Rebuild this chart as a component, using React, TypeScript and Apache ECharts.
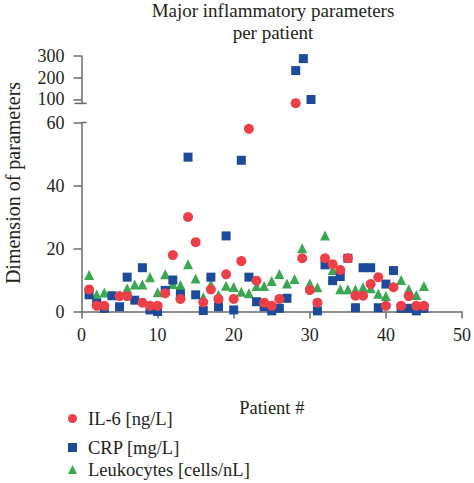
import React, { useEffect, useRef } from "react";
import * as echarts from "echarts";

const patients = [1, 2, 3, 4, 5, 6, 7, 8, 9, 10, 11, 12, 13, 14, 15, 16, 17, 18, 19, 20, 21, 22, 23, 24, 25, 26, 27, 28, 29, 30, 31, 32, 33, 34, 35, 36, 37, 38, 39, 40, 41, 42, 43, 44, 45];
const il6: (number | null)[] = [7.0, 1.8, 1.8, null, 4.9, 4.9, null, 2.8, 1.8, 1.8, 5.8, 17.9, 4.0, 30, 22, 2.9, 7.0, 4.0, 11.8, 4.0, 16, 58, 9.8, 2.8, 1.8, 4.0, null, 83, 16.9, 6.8, 2.8, 16.9, 15.0, 13.2, 16.9, 5.0, 5.0, 8.7, 10.9, 1.8, 7.7, 1.8, 4.9, 1.8, 1.8];
const crp: (number | null)[] = [5.3, 2.6, 1.0, 5.0, 1.5, 10.9, 3.6, 13.9, 0.5, 0, 6.7, 10, 5.5, 49, 5.3, 0.3, 10.9, 1.5, 24, 0.5, 48, 10.9, 3.1, 1.5, 0.2, 1.0, 4.2, 233, 288, 100, 0.2, 14.8, 9.8, 11.1, 16.9, 1.2, 13.9, 13.9, 1.2, 8.7, 13.0, 1.0, 1.0, 0.2, 1.0];
const leuko: (number | null)[] = [11.6, 5.4, 6.0, null, null, 7.4, 8.6, 8.6, 10.9, 6.1, 11.8, 8.7, 8.4, 15.0, 10.5, 4.5, 8.6, 5.3, 8.2, 7.8, 6.3, 5.8, 8.1, 8.1, 9.7, 11.9, 8.9, 10.3, 20.1, 8.9, 7.7, 24.1, 13.2, 7.1, 7.1, 7.0, 7.7, 7.4, 5.6, 4.9, null, 10.0, 7.1, 5.2, 8.1];

const seriesNames = ["IL-6 [ng/L]", "CRP [mg/L]", "Leukocytes [cells/nL]"];
const xTicks = [0, 10, 20, 30, 40, 50];
const lowerTicks = [0, 20, 40, 60];
const upperTicks = [100, 200, 300];
const title = "Major inflammatory parameters\nper patient";
const xName = "Patient #";
const yName = "Dimension of parameters";

const FONT = "'Liberation Serif', 'DejaVu Serif', serif";
const TXT = "#231f20";
const AX = "#6a6a6a";

export default function App() {
  const ref = useRef<HTMLDivElement>(null);
  useEffect(() => {
    if (!ref.current) return;
    const chart = echarts.init(ref.current, null, { renderer: "svg" });

    const gl = 81.5, gw = 382.5;
    const lowTop = 122.5, lowH = 189;
    const upTop = 56, upH = 47.4;
    const lowMax = 60, upMin = 82, upMax = 300;

    const split = (vals: (number | null)[], upper: boolean) =>
      patients
        .map((p, i) => [p, vals[i]])
        .filter((d) => d[1] !== null && (upper ? (d[1] as number) > lowMax : (d[1] as number) <= lowMax));

    const defs = [
      { name: seriesNames[0], vals: il6, symbol: "circle", color: "#ec3f47", size: 10, z: 4 },
      { name: seriesNames[1], vals: crp, symbol: "rect", color: "#1d4b9c", size: 9, z: 3 },
      { name: seriesNames[2], vals: leuko, symbol: "triangle", color: "#3aa853", size: 10, z: 2 },
    ];

    const series: any[] = [];
    defs.forEach((d) => {
      series.push({
        type: "scatter", name: d.name, xAxisIndex: 0, yAxisIndex: 0, symbol: d.symbol,
        symbolSize: d.size, itemStyle: { color: d.color, opacity: 1 }, z: d.z, clip: false,
        data: split(d.vals, false),
      });
      series.push({
        type: "scatter", name: d.name, xAxisIndex: 1, yAxisIndex: 1, symbol: d.symbol,
        symbolSize: d.size, itemStyle: { color: d.color, opacity: 1 }, z: d.z, clip: false,
        data: split(d.vals, true),
      });
    });

    const legendTops = [404, 433, 455];
    const legends = defs.map((d, i) => ({
      data: [{ name: d.name, icon: d.symbol }],
      left: 63,
      top: legendTops[i],
      orient: "vertical",
      itemWidth: 9,
      itemHeight: 9,
      textStyle: { fontFamily: FONT, fontSize: 18.5, color: TXT, padding: [0, 0, 0, 6] },
      selectedMode: false,
    }));

    const axisLineStyle = { color: AX, width: 1.5 };

    chart.setOption({
      animation: false,
      backgroundColor: "#ffffff",
      title: {
        text: title,
        left: 273,
        top: -1,
        padding: 0,
        textAlign: "center",
        textStyle: { fontFamily: FONT, fontSize: 19, fontWeight: "normal", color: TXT, lineHeight: 22 },
      },
      legend: legends,
      grid: [
        { left: gl, top: lowTop, width: gw, height: lowH },
        { left: gl, top: upTop, width: gw, height: upH },
      ],
      xAxis: [
        {
          gridIndex: 0, type: "value", min: xTicks[0], max: xTicks[xTicks.length - 1], interval: 10,
          axisLine: { show: true, lineStyle: axisLineStyle },
          axisTick: { show: true, length: 7, lineStyle: axisLineStyle },
          axisLabel: { fontFamily: FONT, fontSize: 18, color: TXT, margin: 14 },
          splitLine: { show: false },
          name: xName, nameLocation: "middle", nameGap: 87,
          nameTextStyle: { fontFamily: FONT, fontSize: 18.5, color: TXT },
        },
        { gridIndex: 1, type: "value", min: 0, max: 50, show: false, splitLine: { show: false } },
      ],
      yAxis: [
        {
          gridIndex: 0, type: "value", min: lowerTicks[0], max: lowerTicks[lowerTicks.length - 1], interval: 20,
          axisLine: { show: true, lineStyle: axisLineStyle },
          axisTick: { show: true, length: 8, lineStyle: axisLineStyle },
          axisLabel: { fontFamily: FONT, fontSize: 18, color: TXT, margin: 17 },
          splitLine: { show: false },
        },
        {
          gridIndex: 1, type: "value", min: upMin, max: upMax,
          axisLine: { show: true, lineStyle: axisLineStyle },
          axisTick: { show: true, length: 8, lineStyle: axisLineStyle, customValues: upperTicks },
          axisLabel: { fontFamily: FONT, fontSize: 18, color: TXT, margin: 17, customValues: upperTicks },
          splitLine: { show: false },
        },
      ],
      graphic: [
        {
          type: "line", shape: { x1: gl - 7, y1: upTop + upH, x2: gl + 5, y2: upTop + upH },
          style: { stroke: AX, lineWidth: 1.5 }, z: 10,
        },
        {
          type: "line", shape: { x1: gl, y1: lowTop, x2: gl + 5, y2: lowTop },
          style: { stroke: AX, lineWidth: 1.5 }, z: 10,
        },
        {
          type: "text", x: 13, y: 183, rotation: Math.PI / 2,
          style: { text: yName, font: `20px ${FONT}`, fill: TXT, align: "center", verticalAlign: "middle" },
        },
      ],
      series,
    });
    return () => chart.dispose();
  }, []);
  return <div ref={ref} style={{ position: "fixed", left: 0, top: 0, width: 474, height: 483 }} />;
}
